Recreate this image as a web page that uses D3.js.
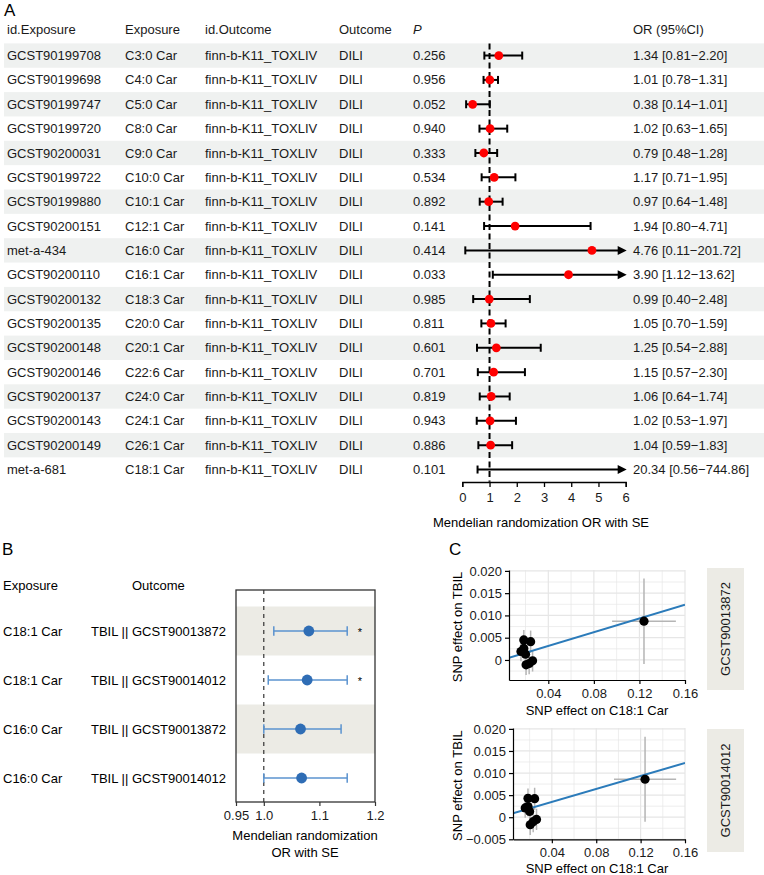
<!DOCTYPE html>
<html>
<head>
<meta charset="utf-8">
<script src="https://cdn.jsdelivr.net/npm/d3@7"></script>
<style>
  body { margin: 0; background: #fff; }
  svg { font-family: "Liberation Sans", Arial, sans-serif; }
</style>
</head>
<body>
<script>
// ---- Panel A data ----
const idExposure = ["GCST90199708", "GCST90199698", "GCST90199747", "GCST90199720", "GCST90200031", "GCST90199722",
  "GCST90199880", "GCST90200151", "met-a-434", "GCST90200110", "GCST90200132", "GCST90200135",
  "GCST90200148", "GCST90200146", "GCST90200137", "GCST90200143", "GCST90200149", "met-a-681"];
const exposure = ["C3:0 Car", "C4:0 Car", "C5:0 Car", "C8:0 Car", "C9:0 Car", "C10:0 Car", "C10:1 Car", "C12:1 Car",
  "C16:0 Car", "C16:1 Car", "C18:3 Car", "C20:0 Car", "C20:1 Car", "C22:6 Car", "C24:0 Car", "C24:1 Car",
  "C26:1 Car", "C18:1 Car"];
const idOutcome = "finn-b-K11_TOXLIV";
const outcome = "DILI";
const pValues = [0.256, 0.956, 0.052, 0.940, 0.333, 0.534, 0.892, 0.141, 0.414, 0.033, 0.985, 0.811, 0.601, 0.701,
  0.819, 0.943, 0.886, 0.101];
const orValues = [1.34, 1.01, 0.38, 1.02, 0.79, 1.17, 0.97, 1.94, 4.76, 3.90, 0.99, 1.05, 1.25, 1.15, 1.06, 1.02, 1.04, 20.34];
const lowerValues = [0.81, 0.78, 0.14, 0.63, 0.48, 0.71, 0.64, 0.80, 0.11, 1.12, 0.40, 0.70, 0.54, 0.57, 0.64, 0.53, 0.59, 0.56];
const upperValues = [2.20, 1.31, 1.01, 1.65, 1.28, 1.95, 1.48, 4.71, 201.72, 13.62, 2.48, 1.59, 2.88, 2.30, 1.74, 1.97, 1.83, 744.86];
const headersA = ["id.Exposure", "Exposure", "id.Outcome", "Outcome", "P", "OR (95%CI)"];
const ticksA = [0, 1, 2, 3, 4, 5, 6];

// ---- Panel B data ----
const exposureB = ["C18:1 Car", "C18:1 Car", "C16:0 Car", "C16:0 Car"];
const outcomeB = ["TBIL || GCST90013872", "TBIL || GCST90014012", "TBIL || GCST90013872", "TBIL || GCST90014012"];
const orB = [1.081, 1.078, 1.066, 1.068];
const lowerB = [1.018, 1.008, 1.000, 1.000];
const upperB = [1.150, 1.150, 1.139, 1.150];
const starB = ["*", "*", "", ""];
const ticksB = [0.95, 1.0, 1.1, 1.2];
const tickLabelsB = ["0.95", "1.0", "1.1", "1.2"];

// ---- Panel C data ----
const facetsC = ["GCST90013872", "GCST90014012"];
const snpX = [0.0185, 0.0245, 0.0160, 0.0185, 0.0200, 0.0262, 0.0232, 0.0205, 0.1240];
const snpSeX = [0.002, 0.002, 0.002, 0.002, 0.002, 0.002, 0.002, 0.002, 0.028];
const snpY1 = [0.0045, 0.0041, 0.0019, 0.0026, 0.0013, -0.0002, -0.0008, -0.0011, 0.0087];
const snpY2 = [0.0043, 0.0042, 0.0021, 0.0024, 0.0013, -0.0005, -0.0010, -0.0017, 0.0086];
const snpSeY = [0.0022, 0.0025, 0.0022, 0.0022, 0.0022, 0.0024, 0.0024, 0.0023, 0.0096];
const fitIntercept = [0.00005, 0.0005];
const fitSlope = [0.0773, 0.0735];
const ticksCx = [0.04, 0.08, 0.12, 0.16];

const W = 764, H = 875;
const fmtMinus = s => s.replace("-", "\u2212");

const svg = d3.select("body").append("svg")
  .attr("width", W)
  .attr("height", H);

// =================== Panel A ===================
const gA = svg.append("g");
gA.append("text").attr("x", 4).attr("y", 16).style("font-size", "17px").text("A");

const nA = idExposure.length;
const yA = d3.scaleBand().domain(d3.range(nA)).range([43.4, 43.4 + nA * 24.35]);
const cy = i => yA(i) + yA.bandwidth() / 2;
const xA = d3.scaleLinear().domain([0, 6]).range([462.3, 625.7]);

// row shading
gA.selectAll(".bandA")
  .data(d3.range(nA).filter(i => i % 2 === 0))
  .enter().append("rect")
  .attr("x", 4).attr("width", W - 4)
  .attr("y", i => yA(i)).attr("height", yA.bandwidth())
  .style("fill", "#eff1f0");

const colX = [7, 125, 205, 339, 413, 633];
gA.selectAll(".headA")
  .data(headersA)
  .enter().append("text")
  .attr("x", (d, i) => colX[i]).attr("y", 29)
  .attr("dy", "0.35em")
  .style("font-size", "13px")
  .style("font-style", d => d === "P" ? "italic" : "normal")
  .style("fill", "#1a1a1a")
  .text(d => d);

const rowTexts = d3.range(nA).map(i => [
  idExposure[i], exposure[i], idOutcome, outcome, pValues[i].toFixed(3),
  `${orValues[i].toFixed(2)} [${lowerValues[i].toFixed(2)}\u2212${upperValues[i].toFixed(2)}]`
]);
const rowG = gA.selectAll(".rowA").data(rowTexts).enter().append("g");
rowG.selectAll("text")
  .data((d, i) => d.map((t, j) => ({ t, j, i })))
  .enter().append("text")
  .attr("x", d => colX[d.j]).attr("y", d => cy(d.i))
  .attr("dy", "0.35em")
  .style("font-size", "13px")
  .style("fill", "#1a1a1a")
  .text(d => d.t);

// dashed reference line
gA.append("line")
  .attr("x1", xA(1)).attr("x2", xA(1))
  .attr("y1", yA(0)).attr("y2", yA.range()[1])
  .style("stroke", "#000").style("stroke-width", 2)
  .style("stroke-dasharray", "6,3.5");

// CI bars
d3.range(nA).forEach(i => {
  const lo = Math.max(lowerValues[i], 0);
  const hi = upperValues[i];
  const arrow = hi > 6;
  const y = cy(i);
  const xEnd = arrow ? xA(6) - 7 : xA(hi);
  gA.append("line")
    .attr("x1", xA(lo)).attr("x2", xEnd).attr("y1", y).attr("y2", y)
    .style("stroke", "#000").style("stroke-width", 2);
  gA.append("line")
    .attr("x1", xA(lo)).attr("x2", xA(lo)).attr("y1", y - 4).attr("y2", y + 4)
    .style("stroke", "#000").style("stroke-width", 2);
  if (arrow) {
    const tip = xA(6) + 1;
    gA.append("path")
      .attr("d", `M${tip - 9},${y - 4.5}L${tip},${y}L${tip - 9},${y + 4.5}Z`)
      .style("fill", "#000");
  } else {
    gA.append("line")
      .attr("x1", xA(hi)).attr("x2", xA(hi)).attr("y1", y - 4).attr("y2", y + 4)
      .style("stroke", "#000").style("stroke-width", 2);
  }
  if (orValues[i] <= 6) {
    gA.append("circle")
      .attr("cx", xA(orValues[i])).attr("cy", y).attr("r", 4.4)
      .style("fill", "#ff0000");
  }
});

const axA = gA.append("g")
  .attr("transform", `translate(0,482)`)
  .call(d3.axisBottom(xA).tickValues(ticksA).tickFormat(d3.format("d")).tickSize(5).tickSizeOuter(5));
axA.select(".domain").style("stroke-width", 1.3);
axA.selectAll(".tick line").style("stroke-width", 1.3);
axA.selectAll("text").style("font-size", "13px").style("fill", "#1a1a1a").attr("dy", "0.9em");
gA.append("text")
  .attr("x", 541).attr("y", 522).attr("dy", "0.35em")
  .attr("text-anchor", "middle").style("font-size", "13px")
  .text("Mendelian randomization OR with SE");

// =================== Panel B ===================
const gB = svg.append("g");
gB.append("text").attr("x", 2).attr("y", 555).style("font-size", "17px").text("B");
gB.append("text").attr("x", 3).attr("y", 585).attr("dy", "0.35em").style("font-size", "13px").text("Exposure");
gB.append("text").attr("x", 132).attr("y", 585).attr("dy", "0.35em").style("font-size", "13px").text("Outcome");

const boxB = { x0: 236, x1: 375, y0: 590, y1: 802 };
const xB = d3.scaleLinear().domain([0.95, 1.2]).range([boxB.x0, boxB.x1]);
const yB = d3.scaleBand().domain(d3.range(orB.length)).range([606.5, 802.5]);
const cyB = i => yB(i) + yB.bandwidth() / 2;

gB.selectAll(".bandB")
  .data(d3.range(orB.length).filter(i => i % 2 === 0))
  .enter().append("rect")
  .attr("x", boxB.x0).attr("width", boxB.x1 - boxB.x0)
  .attr("y", i => yB(i)).attr("height", yB.bandwidth())
  .style("fill", "#ecebe5");

gB.append("line")
  .attr("x1", xB(1)).attr("x2", xB(1)).attr("y1", boxB.y0).attr("y2", boxB.y1)
  .style("stroke", "#222").style("stroke-width", 1.1).style("stroke-dasharray", "4,4");

d3.range(orB.length).forEach(i => {
  const y = cyB(i);
  gB.append("text").attr("x", 3).attr("y", y).attr("dy", "0.35em").style("font-size", "13px").text(exposureB[i]);
  gB.append("text").attr("x", 91).attr("y", y).attr("dy", "0.35em").style("font-size", "13px").text(outcomeB[i]);
  gB.append("line")
    .attr("x1", xB(lowerB[i])).attr("x2", xB(upperB[i])).attr("y1", y).attr("y2", y)
    .style("stroke", "#5b93cf").style("stroke-width", 1.5);
  [lowerB[i], upperB[i]].forEach(v => {
    gB.append("line")
      .attr("x1", xB(v)).attr("x2", xB(v)).attr("y1", y - 4.7).attr("y2", y + 4.7)
      .style("stroke", "#5b93cf").style("stroke-width", 1.5);
  });
  gB.append("circle")
    .attr("cx", xB(orB[i])).attr("cy", y).attr("r", 5.4)
    .style("fill", "#2f6db5");
  if (starB[i]) {
    gB.append("text").attr("x", 360).attr("y", y + 5)
      .attr("text-anchor", "middle").style("font-size", "11px").text(starB[i]);
  }
});

gB.append("rect")
  .attr("x", boxB.x0).attr("y", boxB.y0)
  .attr("width", boxB.x1 - boxB.x0).attr("height", boxB.y1 - boxB.y0)
  .style("fill", "none").style("stroke", "#333").style("stroke-width", 1.3);

const axB = gB.append("g")
  .attr("transform", `translate(0,${boxB.y1})`)
  .call(d3.axisBottom(xB).tickValues(ticksB).tickFormat((d, i) => tickLabelsB[i]).tickSize(4).tickSizeOuter(0));
axB.select(".domain").remove();
axB.selectAll(".tick line").style("stroke", "#333").style("stroke-width", 1.2);
axB.selectAll("text").style("font-size", "13px").style("fill", "#1a1a1a").attr("dy", "0.85em");
gB.append("text").attr("x", 305).attr("y", 835).attr("dy", "0.35em")
  .attr("text-anchor", "middle").style("font-size", "13px").text("Mendelian randomization");
gB.append("text").attr("x", 305).attr("y", 852).attr("dy", "0.35em")
  .attr("text-anchor", "middle").style("font-size", "13px").text("OR with SE");

// =================== Panel C ===================
const gC = svg.append("g");
gC.append("text").attr("x", 449).attr("y", 555).style("font-size", "17px").text("C");

const layoutsC = [
  { x0: 509, x1: 685, yTop: 570, yBot: 680, yDom: [-0.0045, 0.0202], yTicks: [0, 0.005, 0.010, 0.015, 0.020],
    strip: [568, 690], xTitleY: 710 },
  { x0: 513, x1: 685, yTop: 728, yBot: 839.3, yDom: [-0.005, 0.0202], yTicks: [-0.005, 0, 0.005, 0.010, 0.015, 0.020],
    strip: [729, 852], xTitleY: 868 }
];
const snpYs = [snpY1, snpY2];

layoutsC.forEach((L, f) => {
  const g = gC.append("g");
  const x = d3.scaleLinear().domain([L.x0 === 509 ? 0.0055 : 0.005, 0.16]).range([L.x0, L.x1]);
  const y = d3.scaleLinear().domain(L.yDom).range([L.yBot, L.yTop]);
  const ys = snpYs[f];

  const clipId = "clipC" + f;
  g.append("clipPath").attr("id", clipId).append("rect")
    .attr("x", L.x0).attr("y", L.yTop).attr("width", L.x1 - L.x0).attr("height", L.yBot - L.yTop);

  // grid
  const vGrid = d3.range(0.02, 0.161, 0.02);
  g.selectAll(".vg").data(vGrid).enter().append("line")
    .attr("x1", d => x(d)).attr("x2", d => x(d)).attr("y1", L.yTop).attr("y2", L.yBot)
    .style("stroke", "#e6e6e6").style("stroke-width", (d, i) => i % 2 ? 1.2 : 0.7);
  const hGrid = d3.range(-0.005, 0.0201, 0.0025).filter(v => v >= L.yDom[0] - 1e-9);
  g.selectAll(".hg").data(hGrid).enter().append("line")
    .attr("x1", L.x0).attr("x2", L.x1).attr("y1", d => y(d)).attr("y2", d => y(d))
    .style("stroke", "#e6e6e6").style("stroke-width", (d, i) => Math.abs(Math.round(d / 0.0025)) % 2 ? 0.7 : 1.2);

  const body = g.append("g").attr("clip-path", `url(#${clipId})`);
  // error bars
  snpX.forEach((sx, i) => {
    body.append("line")
      .attr("x1", x(sx)).attr("x2", x(sx)).attr("y1", y(ys[i] - snpSeY[i])).attr("y2", y(ys[i] + snpSeY[i]))
      .style("stroke", "#b5b5b5").style("stroke-width", 1.5);
    body.append("line")
      .attr("x1", x(sx - snpSeX[i])).attr("x2", x(sx + snpSeX[i])).attr("y1", y(ys[i])).attr("y2", y(ys[i]))
      .style("stroke", "#b5b5b5").style("stroke-width", 1.5);
  });
  // fit line
  const xd = x.domain();
  body.append("line")
    .attr("x1", x(xd[0])).attr("x2", x(xd[1]))
    .attr("y1", y(fitIntercept[f] + fitSlope[f] * xd[0]))
    .attr("y2", y(fitIntercept[f] + fitSlope[f] * xd[1]))
    .style("stroke", "#2b7bba").style("stroke-width", 2);
  // points
  body.selectAll(".pt").data(snpX).enter().append("circle")
    .attr("cx", d => x(d)).attr("cy", (d, i) => y(ys[i])).attr("r", 4.6)
    .style("fill", "#000");

  // axes
  const axX = g.append("g").attr("transform", `translate(0,${L.yBot})`)
    .call(d3.axisBottom(x).tickValues(ticksCx).tickFormat(d => d.toFixed(2)).tickSize(4).tickSizeOuter(0));
  const axY = g.append("g").attr("transform", `translate(${L.x0},0)`)
    .call(d3.axisLeft(y).tickValues(L.yTicks)
      .tickFormat(d => d === 0 ? "0" : fmtMinus(d.toFixed(3))).tickSize(4).tickSizeOuter(0));
  [axX, axY].forEach(a => {
    a.select(".domain").style("stroke", "#000").style("stroke-width", 1.2);
    a.selectAll(".tick line").style("stroke", "#000").style("stroke-width", 1.2);
    a.selectAll("text").style("font-size", "13px").style("fill", "#1a1a1a");
  });
  axX.selectAll("text").attr("dy", "0.85em");

  g.append("text")
    .attr("x", 597).attr("y", L.xTitleY).attr("dy", "0.35em")
    .attr("text-anchor", "middle").style("font-size", "13px")
    .text("SNP effect on C18:1 Car");
  g.append("text")
    .attr("transform", `translate(457,${(L.yTop + L.yBot) / 2 + 2}) rotate(-90)`)
    .attr("dy", "0.35em").attr("text-anchor", "middle").style("font-size", "13px")
    .text("SNP effect on TBIL");

  // facet strip
  g.append("rect")
    .attr("x", 707).attr("width", 37)
    .attr("y", L.strip[0]).attr("height", L.strip[1] - L.strip[0])
    .style("fill", "#ecebe5");
  g.append("text")
    .attr("transform", `translate(725.5,${(L.strip[0] + L.strip[1]) / 2}) rotate(-90)`)
    .attr("dy", "0.35em").attr("text-anchor", "middle").style("font-size", "13px").style("fill", "#1a1a1a")
    .text(facetsC[f]);
});
</script>
</body>
</html>
